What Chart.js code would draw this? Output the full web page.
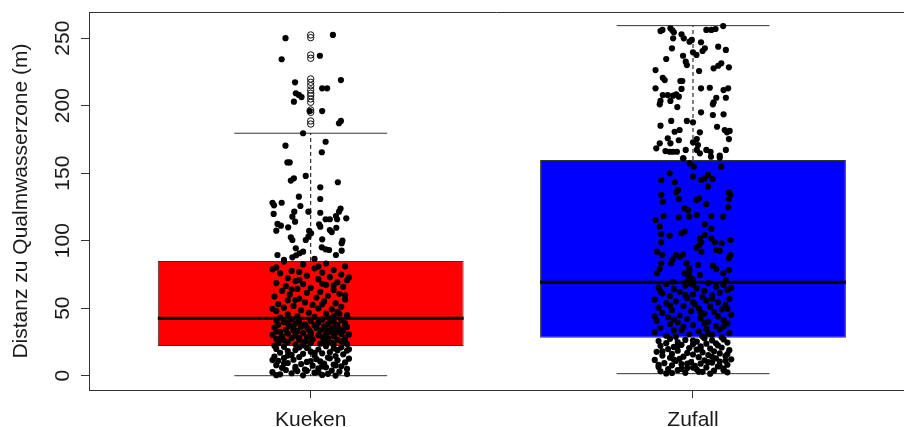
<!DOCTYPE html>
<html>
<head>
<meta charset="utf-8">
<script src="https://cdn.jsdelivr.net/npm/chart.js@4.4.1/dist/chart.umd.min.js"></script>
<style>
  html, body { margin: 0; padding: 0; background: #fff; overflow: hidden; }
  #wrap { width: 904px; height: 427px; }
</style>
</head>
<body>
<div id="wrap"><canvas id="boxChart"></canvas></div>
<script>
// Kategorien und Boxplot-Kennwerte
const categories = ['Kueken', 'Zufall'];
const boxColors = ['#ff0000', '#0000ff'];
const q1 = [22.0, 28.1];
const medians = [42.5, 69.2];
const q3 = [85.0, 159.8];
const whiskerLow = [0, 1.5];
const whiskerHigh = [179.6, 259.3];
const yTicks = [0, 50, 100, 150, 200, 250];
const yTitle = 'Distanz zu Qualmwasserzone (m)';

// Ausreisser (offene Kreise bei Kueken)
const kuekenOutliers = [252.4, 250.4, 237.6, 235.1, 219.8, 217.3, 214.8, 211.6, 209.2, 207.4, 205.0, 202.5, 196.8, 195.1, 188.7, 186.4];

// Einzelpunkte: [Wert, seitlicher Versatz]
const kuekenPoints = [
  [250.0,-0.066],[252.4,0.058],[234.4,-0.076],[237.0,0.024],[217.3,-0.041],[219.0,0.079],[212.9,0.030],[212.9,0.043],
  [209.2,-0.039],[208.0,-0.031],[206.4,-0.024],[203.0,-0.044],[196.0,-0.003],[196.0,0.030],[187.0,0.074],[188.7,0.079],[179.6,-0.020],
  [170.4,-0.066],[173.3,0.039],[165.5,0.029],[158.0,-0.061],[158.0,-0.055],[144.5,-0.052],[146.2,-0.044],[148.0,-0.013],
  [143.3,0.071],[139.6,0.025],[132.6,-0.031],[130.9,0.025],[128.1,-0.100],[126.2,-0.096],[128.1,-0.076],[125.7,-0.027],
  [123.7,0.078],[121.5,0.074],[119.8,-0.097],[121.5,-0.043],[117.8,-0.048],[121.5,-0.006],[120.7,0.025],[115.9,0.039],
  [115.9,0.050],[118.3,0.066],[115.9,0.069],[116.6,0.093],[114.1,-0.041],[112.4,-0.087],[111.1,-0.078],[110.4,0.025],
  [112.1,0.022],[109.9,-0.059],[107.4,-0.090],[107.2,-0.004],[105.5,0.001],[103.0,-0.006],[107.9,0.050],[106.4,0.055],
  [109.6,0.067],[102.5,-0.052],[100.5,-0.048],[101.0,0.030],[100.0,0.083],[98.1,0.081],[100.5,-0.013],[94.4,-0.039],
  [95.1,0.029],[93.6,0.039],[93.1,0.048],[92.6,0.081],[89.4,-0.087],[87.7,-0.048],[89.2,-0.038],[90.7,-0.029],[91.9,-0.020],
  [89.4,0.066],[86.5,0.010],[85.8,-0.070],
  [84.5,-0.07],[83.1,0.04],[82.4,-0.02],[81.0,0.09],[80.2,-0.09],[79.5,0.01],[78.3,0.06],[77.6,-0.05],[76.4,0.03],
  [75.8,-0.08],[74.9,0.08],[74.1,-0.01],[73.0,0.05],[72.2,-0.06],[71.5,0.02],[70.7,0.095],[70.1,-0.04],[69.3,0.07],
  [68.6,-0.09],[67.9,-0.02],[67.2,0.04],[66.4,-0.065],[65.8,0.085],[65.0,0.0],[64.3,-0.035],[63.5,0.06],[62.8,-0.075],
  [62.1,0.025],[61.4,-0.01],[60.7,0.075],[60.0,-0.055],[59.2,0.045],[58.6,-0.095],[57.9,0.015],[57.1,-0.03],[56.5,0.09],
  [55.8,-0.06],[55.0,0.035],[54.3,-0.015],[53.7,0.065],[53.0,-0.085],[52.4,0.005],[51.7,-0.045],[51.0,0.08],[50.4,-0.07],
  [49.8,0.02],[49.1,0.055],[48.5,-0.025],[47.9,-0.09],[47.2,0.07],[46.6,-0.005],[46.0,0.04],[45.4,-0.06],[44.8,0.095],
  [44.2,-0.035],[43.6,0.01],[43.0,-0.08],[42.5,0.05],[80.8,0.02],[76.9,-0.03],[72.8,0.1],[68.1,0.03],[63.9,-0.05],
  [59.6,0.09],[56.0,-0.04],[52.9,0.03],[49.5,-0.1],[45.9,0.075],[44.0,0.06],[78.8,-0.1],[71.0,-0.03],[66.9,0.06],
  [41.8,-0.05],[41.5,0.03],[41.2,0.08],[40.9,-0.09],[40.6,0.0],[40.2,-0.03],[39.9,0.06],[39.6,-0.07],[39.3,0.02],
  [39.0,0.09],[38.7,-0.04],[38.4,0.045],[38.1,-0.015],[37.8,-0.085],[37.5,0.07],[37.2,0.01],[36.9,-0.055],[36.6,0.035],
  [36.3,-0.025],[36.0,0.095],[35.7,-0.095],[35.4,0.015],[35.1,0.055],[34.8,-0.045],[34.5,0.075],[34.2,-0.005],[33.9,-0.065],
  [33.6,0.025],[33.3,0.085],[33.0,-0.035],[32.7,0.05],[32.4,-0.08],[32.1,0.0],[31.8,0.065],[31.5,-0.02],[31.2,-0.06],
  [30.9,0.04],[30.6,0.1],[30.3,-0.1],[30.0,0.02],[29.7,-0.04],[29.4,0.06],[29.1,-0.075],[28.8,0.03],[28.5,-0.01],
  [28.2,0.09],[27.9,-0.05],[27.6,0.045],[27.3,-0.09],[27.0,0.005],[26.7,0.07],[26.4,-0.03],[26.1,-0.07],[25.8,0.035],
  [25.5,0.08],[25.2,-0.015],[24.9,-0.06],[24.6,0.055],[24.3,0.0],[24.0,-0.085],[23.7,0.025],[23.4,0.095],[23.1,-0.04],
  [22.8,0.06],[22.5,-0.02],[22.2,-0.095],[40.4,0.05],[38.9,-0.06],[37.0,0.09],[35.9,-0.01],[34.0,0.04],[32.9,-0.09],
  [31.0,0.08],[29.9,0.0],[28.0,-0.03],[26.9,-0.08],[25.0,0.09],[23.9,0.04],[36.4,0.065],[33.4,-0.045],
  [21.8,0.04],[21.4,-0.07],[21.0,0.08],[20.6,-0.01],[20.2,0.06],[19.8,-0.09],[19.4,0.02],[19.0,-0.04],[18.6,0.095],
  [18.2,-0.06],[17.8,0.0],[17.4,0.05],[17.0,-0.08],[16.6,0.03],[16.2,-0.02],[15.8,0.085],[15.4,-0.05],[15.0,0.01],
  [14.6,0.065],[14.2,-0.095],[13.8,-0.03],[13.4,0.045],[13.0,-0.07],[12.6,0.1],[12.2,0.015],[11.8,-0.045],[11.4,0.07],
  [11.0,-0.085],[10.6,0.025],[10.2,-0.01],[9.8,0.09],[9.4,-0.06],[9.0,0.035],[8.6,-0.025],[8.2,0.06],[7.8,-0.09],
  [7.4,0.005],[7.0,0.08],[6.6,-0.04],[6.2,0.04],[5.8,-0.075],[5.4,0.02],[5.0,0.095],[4.6,-0.015],[4.2,-0.065],
  [3.8,0.055],[3.4,-0.035],[3.0,0.075],[2.6,-0.1],[2.2,0.01],[1.8,-0.05],[1.4,0.045],[1.0,-0.08],[0.6,0.03],
  [0.3,-0.02],[0.1,0.065],[20.9,-0.03],[18.9,0.07],[16.9,0.01],[14.9,-0.06],[12.9,0.05],[10.9,0.0],[8.9,-0.07],
  [6.9,0.03],[4.9,-0.04],[2.9,0.02],[1.2,0.095],[0.4,-0.09],[19.6,0.1],[11.6,-0.1],[3.6,-0.01],[7.6,0.065]
];

const zufallPoints = [
  [255.3,-0.085],[256.1,-0.080],[257.3,-0.059],[255.9,-0.054],[254.4,-0.050],[252.9,-0.030],[249.9,-0.024],[249.9,-0.052],
  [247.4,-0.009],[248.7,-0.003],[247.0,0.021],[256.1,0.035],[256.1,0.048],[256.8,0.059],[259.0,0.079],[242.5,-0.055],
  [237.0,-0.026],[239.5,0.000],[237.6,0.009],[242.5,0.031],[240.5,0.025],[243.7,0.066],[241.3,0.086],[234.6,-0.070],
  [232.6,-0.019],[230.1,-0.016],[231.4,0.074],[229.6,0.066],[227.7,0.054],[228.4,0.094],[226.4,-0.098],[225.7,0.016],
  [220.7,-0.079],[219.0,-0.074],[218.3,-0.033],[218.3,-0.028],[212.9,-0.098],[212.4,-0.030],[212.9,0.021],[213.3,0.044],
  [211.6,0.080],[212.9,0.092],[207.9,-0.079],[207.9,-0.066],[207.4,-0.052],[208.4,-0.044],[206.7,-0.037],[205.9,0.061],
  [205.9,0.086],[203.5,-0.085],[201.0,-0.087],[203.5,-0.059],[201.0,0.052],[202.5,0.054],[199.0,-0.041],[195.1,0.021],
  [193.1,0.052],[193.6,0.080],[188.7,-0.057],[188.7,-0.016],[187.7,0.000],[185.2,-0.085],[180.7,-0.048],[182.0,-0.035],
  [180.3,0.018],[184.4,0.063],[182.0,0.083],[180.3,0.089],[181.3,0.096],[175.3,0.094],[175.9,-0.066],[172.1,-0.059],
  [174.4,-0.037],[172.1,-0.087],[168.4,-0.096],[172.9,0.000],[175.3,0.010],[170.9,0.013],[167.2,0.035],[165.9,0.046],
  [163.0,0.070],[167.2,0.086],[166.4,-0.072],[165.9,-0.061],[165.9,-0.052],[165.9,-0.042],[167.2,-0.019],[161.0,-0.025],
  [167.2,0.010],[164.7,0.018],
  [161.0,-0.026],[157.3,-0.009],[154.8,0.002],[162.2,0.047],[161.5,0.070],[154.8,0.074],[149.9,-0.061],[147.4,0.000],
  [145.0,0.022],[146.2,0.031],[148.7,0.039],[145.7,0.051],[145.0,-0.083],[143.3,-0.048],[140.0,0.039],[137.6,-0.039],
  [135.9,-0.044],[135.9,0.094],[133.9,0.098],[133.9,-0.083],[128.9,-0.079],[130.9,-0.037],[130.1,0.009],[131.4,0.016],
  [130.9,0.094],[127.0,0.035],[124.7,0.092],[124.0,-0.022],[122.7,-0.013],[118.3,-0.077],[115.3,-0.098],[117.3,-0.037],
  [117.8,-0.010],[119.0,0.010],[118.3,0.048],[117.8,0.079],[112.1,0.031],[110.4,-0.087],[105.0,-0.083],[105.5,-0.030],
  [106.7,-0.022],[103.7,-0.061],[108.7,0.048],[104.2,0.031],[98.8,-0.083],[101.8,0.018],[98.8,0.022],[96.8,0.016],
  [94.8,0.009],[101.8,0.048],[98.8,0.057],[98.1,0.075],[100.5,0.098],[91.9,-0.094],[89.4,-0.080],[93.1,0.061],
  [92.6,0.070],[91.9,0.022],[89.9,-0.026],[88.1,-0.035],[89.4,-0.045],[89.4,0.098],[87.0,0.094],[86.4,-0.052],
  [83.3,-0.057],[83.3,-0.017],[79.6,-0.010],[77.0,-0.009],[82.0,0.013],[81.5,0.052],[79.0,0.061],[83.3,-0.083],
  [79.0,-0.087],[78.3,0.094],[75.9,-0.094],[75.9,-0.022],[74.1,-0.013],[72.1,-0.004],[70.9,0.000],[74.6,0.018],
  [75.9,0.079],[70.9,0.086],[69.6,-0.052],[69.6,-0.017],[68.4,-0.009],
  [68.6,0.04],[68.0,-0.07],[67.3,0.08],[66.7,-0.02],[66.0,0.06],[65.4,-0.09],[64.7,0.01],[64.1,-0.05],[63.4,0.09],
  [62.8,0.03],[62.1,-0.035],[61.5,0.07],[60.8,-0.08],[60.2,0.0],[59.5,0.05],[58.9,-0.06],[58.2,0.025],[57.6,-0.015],
  [56.9,0.095],[56.3,-0.1],[55.6,0.035],[55.0,-0.045],[54.3,0.065],[53.7,-0.07],[53.0,0.005],[52.4,0.085],[51.7,-0.025],
  [51.1,0.045],[50.4,-0.09],[49.8,0.015],[49.1,0.075],[48.5,-0.055],[47.8,-0.005],[47.2,0.055],[46.5,-0.08],[45.9,0.03],
  [45.2,0.1],[44.6,-0.035],[43.9,0.065],[43.3,-0.065],[42.6,0.02],[42.0,-0.015],[41.3,0.08],[40.7,-0.095],[40.0,0.04],
  [39.4,-0.04],[38.7,0.09],[38.1,-0.06],[37.4,0.0],[36.8,0.06],[36.1,-0.025],[35.5,-0.085],[34.8,0.035],[34.2,0.07],
  [33.5,-0.05],[32.9,0.015],[32.2,-0.1],[31.6,0.095],[30.9,-0.01],[30.3,0.05],[29.6,-0.07],[29.0,0.025],[28.4,0.075],
  [67.6,0.0],[65.0,0.1],[62.5,-0.085],[59.8,-0.02],[57.0,0.05],[54.6,0.0],[52.0,-0.06],[49.4,0.09],[46.9,0.02],
  [44.0,-0.1],[41.6,-0.05],[39.0,0.03],[36.5,0.08],[33.8,-0.03],[31.2,0.04],[28.8,-0.045],
  [27.7,0.03],[27.3,-0.06],[26.9,0.08],[26.5,-0.02],[26.1,0.05],[25.7,-0.09],[25.3,0.01],[24.9,-0.04],[24.5,0.09],
  [24.1,-0.07],[23.7,0.035],[23.3,0.0],[22.9,-0.03],[22.5,0.065],[22.1,-0.085],[21.7,0.02],[21.3,-0.05],[20.9,0.075],
  [20.5,-0.01],[20.1,0.045],[19.7,-0.065],[19.3,0.01],[18.9,0.095],[18.5,-0.04],[18.1,0.055],[17.7,-0.095],[17.3,0.025],
  [16.9,-0.015],[16.5,0.07],[16.1,-0.055],[15.7,0.0],[15.3,0.04],[14.9,-0.08],[14.5,0.085],[14.1,-0.025],[13.7,0.015],
  [13.3,-0.06],[12.9,0.06],[12.5,-0.035],[12.1,0.1],[11.7,-0.1],[11.3,0.03],[10.9,-0.045],[10.5,0.07],[10.1,-0.005],
  [9.7,0.05],[9.3,-0.075],[8.9,0.02],[8.5,-0.03],[8.1,0.09],[7.7,-0.055],[7.3,0.005],[6.9,0.065],[6.5,-0.09],
  [6.1,0.035],[5.7,-0.015],[5.3,0.08],[4.9,-0.065],[4.5,0.01],[4.1,-0.04],[3.7,0.055],[3.3,-0.085],[2.9,0.025],
  [2.5,0.09],[2.1,-0.02],[1.7,-0.07],[1.5,0.045],[26.0,0.0],[24.0,0.06],[22.0,-0.04],[20.0,0.02],[18.0,-0.08],
  [16.0,0.09],[14.0,0.05],[12.0,-0.05],[10.0,0.04],[8.0,-0.09],[6.0,0.0],[4.0,0.08],[2.0,-0.055],[3.0,0.015],
  [5.0,-0.03],[7.0,0.07],[9.0,-0.015],[11.0,0.085]
];

const FONT = "'Liberation Sans', Arial, Helvetica, sans-serif";
const INK = '#1a1a1a';

Chart.defaults.font.family = FONT;
Chart.defaults.color = INK;

// Hilfsfunktion fuer einfache Liniensegmente
function segment(points, opts) {
    return Object.assign({
        type: 'line',
        data: points.map(([x, y]) => ({ x, y })),
        showLine: true,
        borderColor: '#000',
        borderWidth: 1,
        pointRadius: 0,
        fill: false,
        tension: 0
    }, opts);
}

const datasets = [];

// Boxen als schwebende Balken
datasets.push({
    type: 'bar',
    data: categories.map((c, i) => ({ x: i + 1, y: [q1[i], q3[i]] })),
    backgroundColor: boxColors,
    borderColor: '#333',
    borderWidth: 1,
    borderSkipped: false,
    barPercentage: 1,
    categoryPercentage: 0.8,
    order: 5
});

categories.forEach((c, i) => {
    const x = i + 1;
    // Whisker (gestrichelt) und Endstriche
    datasets.push(segment([[x, q3[i]], [x, whiskerHigh[i]]], { borderDash: [4, 3], order: 4 }));
    datasets.push(segment([[x, q1[i]], [x, whiskerLow[i]]], { borderDash: [4, 3], order: 4 }));
    datasets.push(segment([[x - 0.2, whiskerHigh[i]], [x + 0.2, whiskerHigh[i]]], { borderColor: '#333', order: 4 }));
    datasets.push(segment([[x - 0.2, whiskerLow[i]], [x + 0.2, whiskerLow[i]]], { borderColor: '#333', order: 4 }));
    // Median
    datasets.push(segment([[x - 0.4, medians[i]], [x + 0.4, medians[i]]], { borderWidth: 3, order: 3 }));
});

// Ausreisser
datasets.push({
    type: 'scatter',
    data: kuekenOutliers.map(y => ({ x: 1, y })),
    pointRadius: 3.2,
    pointBackgroundColor: 'rgba(0,0,0,0)',
    pointBorderColor: '#111',
    pointBorderWidth: 1,
    order: 2
});

// Gestreute Einzelpunkte
[kuekenPoints, zufallPoints].forEach((pts, i) => {
    datasets.push({
        type: 'scatter',
        data: pts.map(([y, dx]) => ({ x: i + 1 + dx, y })),
        pointRadius: 3.1,
        pointBackgroundColor: '#000',
        pointBorderWidth: 0,
        order: 1
    });
});

// oberer Rahmen (R box())
const frameTop = {
    id: 'frameTop',
    afterDraw(chart) {
        const { ctx, chartArea } = chart;
        ctx.save();
        ctx.strokeStyle = '#333';
        ctx.lineWidth = 1;
        ctx.beginPath();
        ctx.moveTo(chartArea.left, Math.round(chartArea.top) + 0.5);
        ctx.lineTo(chartArea.right, Math.round(chartArea.top) + 0.5);
        ctx.stroke();
        ctx.restore();
    }
};

new Chart(document.getElementById('boxChart'), {
    type: 'scatter',
    data: { datasets },
    plugins: [frameTop],
    options: {
        responsive: true,
        maintainAspectRatio: false,
        animation: false,
        layout: { autoPadding: false, padding: { top: 12, left: 0, right: 0, bottom: 0 } },
        plugins: { legend: { display: false }, tooltip: { enabled: false } },
        scales: {
            x: {
                type: 'linear',
                offset: false,
                min: 0.42,
                max: 2.552,
                afterBuildTicks: (scale) => { scale.ticks = categories.map((c, i) => ({ value: i + 1 })); },
                afterFit: (scale) => { scale.height = 37; },
                ticks: {
                    autoSkip: false,
                    maxRotation: 0,
                    padding: 10,
                    color: INK,
                    font: { size: 21 },
                    callback: (value) => categories[value - 1]
                },
                grid: { offset: false, drawOnChartArea: false, drawTicks: true, tickLength: 8, color: '#333' },
                border: { display: true, color: '#333' }
            },
            y: {
                min: -10.6,
                max: 269.4,
                afterBuildTicks: (scale) => { scale.ticks = yTicks.map(v => ({ value: v })); },
                afterFit: (scale) => { scale.width = 89; },
                ticks: {
                    autoSkip: false,
                    minRotation: 90,
                    maxRotation: 90,
                    crossAlign: 'center',
                    padding: 0,
                    color: INK,
                    font: { size: 21, lineHeight: 1 }
                },
                grid: { drawOnChartArea: false, drawTicks: true, tickLength: 8, color: '#333' },
                border: { display: true, color: '#333' },
                title: {
                    display: true,
                    text: yTitle,
                    color: INK,
                    font: { size: 21 },
                    padding: { top: 9, bottom: 0 }
                }
            }
        }
    }
});
</script>
</body>
</html>
